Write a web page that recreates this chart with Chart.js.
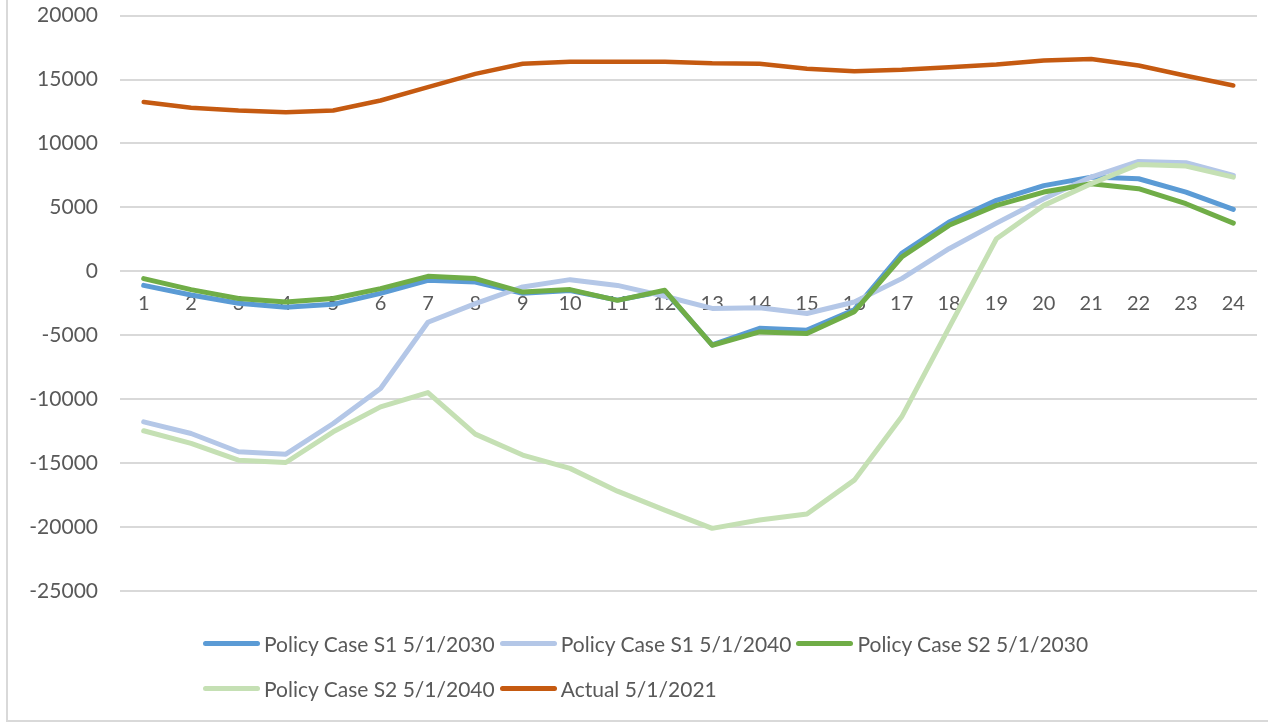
<!DOCTYPE html>
<html>
<head>
<meta charset="utf-8">
<script src="https://cdn.jsdelivr.net/npm/chart.js@4"></script>
<style>
  body { margin: 0; background: #fff; }
  #frame {
    position: absolute; left: 0; top: 0; width: 1268px; height: 722px; overflow: hidden;
  }
  #edge {
    position: absolute; left: 6px; top: 0; width: 1262px; height: 722px;
    border-left: 2px solid #d9d9d9; border-bottom: 2px solid #d9d9d9;
    box-sizing: border-box;
  }
  /* chart.js keeps extra room above the plot here, so lift the canvas a bit */
  #loadChart { position: absolute; left: 0; top: -19px; }
  #legend {
    position: absolute; left: 203px; top: 627px; width: 940px;
    display: flex; flex-wrap: wrap; row-gap: 12px;
    font-family: Lato, sans-serif; font-size: 21px; color: #595959;
  }
  .item { display: flex; align-items: center; height: 33px; margin-right: 5px; }
  .swatch { width: 57px; height: 5px; border-radius: 3px; margin-right: 4px; }
</style>
</head>
<body>
<div id="frame">
  <div id="edge"></div>
  <canvas id="loadChart" width="1268" height="741"></canvas>
  <div id="legend"></div>
</div>
<script>
const hours = ["1","2","3","4","5","6","7","8","9","10","11","12","13","14","15","16","17","18","19","20","21","22","23","24"];

const s1_2030 = [-1100, -1850, -2500, -2800, -2580, -1720, -700, -830, -1720, -1500, -2250, -1550, -5750, -4450, -4600, -3000, 1400, 3850, 5550, 6700, 7370, 7240, 6200, 4840];
const s1_2040 = [-11770, -12680, -14110, -14300, -11900, -9160, -3980, -2520, -1220, -650, -1100, -1950, -2900, -2840, -3300, -2400, -570, 1770, 3770, 5680, 7370, 8590, 8490, 7500];
const s2_2030 = [-570, -1430, -2130, -2400, -2130, -1350, -390, -570, -1620, -1430, -2270, -1480, -5780, -4740, -4870, -3150, 1120, 3600, 5160, 6200, 6850, 6460, 5290, 3770];
const s2_2040 = [-12470, -13460, -14770, -14950, -12550, -10600, -9480, -12730, -14370, -15410, -17190, -18670, -20100, -19450, -18980, -16330, -11380, -4400, 2550, 5160, 6850, 8360, 8230, 7370];
const actual2021 = [13250, 12800, 12580, 12450, 12580, 13360, 14400, 15440, 16230, 16400, 16400, 16400, 16270, 16230, 15840, 15650, 15760, 15960, 16170, 16480, 16600, 16100, 15300, 14530];

const seriesNames = ["Policy Case S1 5/1/2030", "Policy Case S1 5/1/2040", "Policy Case S2 5/1/2030", "Policy Case S2 5/1/2040", "Actual 5/1/2021"];
const seriesData = [s1_2030, s1_2040, s2_2030, s2_2040, actual2021];
const seriesColors = ["#5b9bd5", "#b4c7e7", "#70ad47", "#c5e0b4", "#c55a11"];

const yTicks = [-25000, -20000, -15000, -10000, -5000, 0, 5000, 10000, 15000, 20000];

let loadChart;

function initChart() {
  const ctx = document.getElementById("loadChart").getContext("2d");
  loadChart = new Chart(ctx, {
    type: "line",
    data: {
      labels: hours,
      datasets: seriesNames.map((name, i) => ({
        label: name,
        data: seriesData[i],
        borderColor: seriesColors[i],
        backgroundColor: seriesColors[i],
        borderWidth: i === 4 ? 4.5 : 5,
        pointRadius: 0,
        fill: false,
        tension: 0,
        borderJoinStyle: "round",
        borderCapStyle: "round",
        // later series on top, like the original
        order: seriesNames.length - 1 - i,
      })),
    },
    options: {
      responsive: false,
      animation: false,
      layout: { padding: { left: 0, right: 11, top: 15, bottom: 131 } },
      plugins: {
        legend: { display: false },
        tooltip: { enabled: false },
      },
      scales: {
        x: {
          type: "category",
          position: { y: 0 },
          offset: true,
          z: 1,
          grid: { display: false, drawTicks: false },
          border: { display: false },
          ticks: {
            color: "#595959",
            font: { family: "Lato", size: 20 },
            padding: 20,
            maxRotation: 0,
            autoSkip: false,
          },
        },
        y: {
          min: yTicks[0],
          max: yTicks[yTicks.length - 1],
          afterFit: (scale) => { scale.width = 120; },
          afterBuildTicks: (scale) => { scale.ticks = yTicks.map((v) => ({ value: v })); },
          grid: { color: "#d9d9d9", lineWidth: 2, drawTicks: false },
          border: { display: false },
          ticks: {
            color: "#595959",
            font: { family: "Lato", size: 21 },
            padding: 22,
            callback: (v) => String(v),
          },
        },
      },
    },
  });
}

function buildLegend() {
  const box = document.getElementById("legend");
  loadChart.data.datasets.forEach((ds) => {
    const item = document.createElement("div");
    item.className = "item";
    const sw = document.createElement("span");
    sw.className = "swatch";
    sw.style.background = ds.borderColor;
    const txt = document.createElement("span");
    txt.textContent = ds.label;
    item.appendChild(sw);
    item.appendChild(txt);
    box.appendChild(item);
  });
}

window.onload = function () {
  initChart();
  buildLegend();
};
</script>
</body>
</html>
